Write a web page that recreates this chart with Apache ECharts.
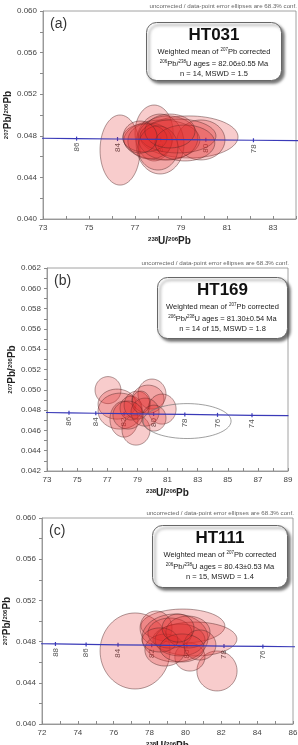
<!DOCTYPE html>
<html>
<head>
<meta charset="utf-8">
<script src="https://cdn.jsdelivr.net/npm/echarts@6/dist/echarts.min.js"></script>
<style>
  html, body { margin: 0; padding: 0; background: #fff; }
  #chart { width: 298px; height: 745px; }
</style>
</head>
<body>
<div id="chart"></div>
<script>
// concordia (Tera-Wasserburg) points
const concAges = [72, 74, 76, 78, 80, 82, 84, 86, 88, 90];
const concX = [89.03, 86.61, 84.32, 82.15, 80.08, 78.12, 76.24, 74.46, 72.75, 71.13];
const concY = [0.04745, 0.04749, 0.04753, 0.04757, 0.04761, 0.04765, 0.04769, 0.04773, 0.04777, 0.04781];

// error ellipses: center x, center y, half width (x), half height (y)
const ellA_cx = [76.35, 77.83, 79.35, 79.87, 78.09, 78.17, 77.65, 78.43, 78.87, 77.43, 78.00, 79.17, 78.52, 77.22];
const ellA_cy = [0.04663, 0.04827, 0.04789, 0.04760, 0.04721, 0.04760, 0.04750, 0.04779, 0.04798, 0.04779, 0.04683, 0.04731, 0.04846, 0.04788];
const ellA_rx = [0.87, 0.83, 2.13, 1.04, 1.04, 1.65, 0.96, 1.30, 1.65, 0.96, 0.87, 1.30, 1.09, 0.74];
const ellA_ry = [0.00337, 0.00269, 0.00202, 0.00192, 0.00288, 0.00192, 0.00173, 0.00212, 0.00163, 0.00135, 0.00212, 0.00173, 0.00163, 0.00154];

const ellB_cx = [77.05, 77.65, 77.85, 78.11, 78.91, 78.58, 78.98, 79.97, 79.71, 80.64, 79.51, 79.24, 80.10, 78.38];
const ellB_cy = [0.04997, 0.04859, 0.04790, 0.04711, 0.04603, 0.04820, 0.04849, 0.04958, 0.04908, 0.04810, 0.04780, 0.04879, 0.04721, 0.04751];
const ellB_rx = [0.86, 1.26, 1.46, 0.93, 0.93, 0.73, 0.86, 0.93, 1.06, 0.93, 0.93, 0.60, 0.80, 1.00];
const ellB_ry = [0.00133, 0.00148, 0.00177, 0.00177, 0.00148, 0.00118, 0.00138, 0.00148, 0.00138, 0.00148, 0.00138, 0.00108, 0.00128, 0.00138];
// rejected analysis (outline only)
const rejB = [[82.30, 0.04692, 2.92, 0.00172]];

const ellC_cx = [77.19, 81.76, 79.86, 80.53, 78.36, 80.25, 79.42, 78.86, 79.70, 79.14, 80.14, 80.81, 78.58, 79.81, 79.59];
const ellC_cy = [0.04709, 0.04515, 0.04951, 0.04825, 0.04932, 0.04650, 0.04835, 0.04718, 0.04816, 0.04883, 0.04893, 0.04767, 0.04816, 0.04738, 0.04932];
const ellC_rx = [1.95, 1.12, 2.34, 2.34, 0.89, 0.84, 1.84, 1.12, 1.39, 1.23, 1.23, 0.89, 1.00, 1.23, 0.89];
const ellC_ry = [0.00369, 0.00194, 0.00165, 0.00165, 0.00165, 0.00136, 0.00233, 0.00155, 0.00155, 0.00146, 0.00155, 0.00146, 0.00117, 0.00136, 0.00136];

const panels = [
  {tag: '(a)', name: 'HT031', age: '82.06\u00b10.55', nline: 'n = 14, MSWD = 1.5',
   xMin: 73, xMax: 84, yMin: 0.040, yMax: 0.060, yStep: 0.002,
   grid: {left: 43, top: 11, width: 253, height: 208},
   box: {x: 146, y: 22, w: 135, h: 58},
   ell: [ellA_cx, ellA_cy, ellA_rx, ellA_ry], rej: []},
  {tag: '(b)', name: 'HT169', age: '81.30\u00b10.54', nline: 'n = 14 of 15, MSWD = 1.8',
   xMin: 73, xMax: 89, yMin: 0.042, yMax: 0.062, yStep: 0.001,
   grid: {left: 47, top: 268, width: 241, height: 203},
   box: {x: 157, y: 277, w: 130, h: 61},
   ell: [ellB_cx, ellB_cy, ellB_rx, ellB_ry], rej: rejB},
  {tag: '(c)', name: 'HT111', age: '80.43\u00b10.53', nline: 'n = 15, MSWD = 1.4',
   xMin: 72, xMax: 86, yMin: 0.040, yMax: 0.060, yStep: 0.002,
   grid: {left: 42, top: 518, width: 251, height: 206},
   box: {x: 152, y: 525, w: 135, h: 62},
   ell: [ellC_cx, ellC_cy, ellC_rx, ellC_ry], rej: []}
];

const FONT = 'Liberation Sans, Arial, sans-serif';

const ellipseItem = (fill, stroke) => (params, api) => {
  const cx = api.value(0), cy = api.value(1), rx = api.value(2), ry = api.value(3);
  const pts = [];
  for (let k = 0; k < 72; k++) {
    const a = k / 72 * Math.PI * 2;
    pts.push(api.coord([cx + rx * Math.cos(a), cy + ry * Math.sin(a)]));
  }
  return {type: 'polygon', shape: {points: pts}, style: {fill: fill, stroke: stroke, lineWidth: 0.7}};
};

const nameRich = {
  s: {fontSize: 6, fontWeight: 'bold', fontFamily: FONT, color: '#222', verticalAlign: 'top', padding: [0, 0, 4, 0]},
  b: {fontSize: 10, fontWeight: 'bold', fontFamily: FONT, color: '#222'}
};

const grid = [], xAxis = [], yAxis = [], series = [], graphic = [];

panels.forEach((p, i) => {
  grid.push(Object.assign({show: true, borderColor: '#8a8a8a', borderWidth: 0.8, backgroundColor: '#fff', outerBoundsMode: 'none', containLabel: false}, p.grid));
  xAxis.push({
    gridIndex: i, type: 'value', min: p.xMin, max: p.xMax, interval: 1,
    name: '{s|238}{b|U/}{s|206}{b|Pb}', nameLocation: 'middle', nameGap: 17, nameMoveOverlap: false,
    nameTextStyle: {rich: nameRich},
    axisLine: {lineStyle: {color: '#8a8a8a', width: 0.8}},
    axisTick: {inside: true, length: 3, lineStyle: {color: '#8a8a8a'}},
    axisLabel: {fontSize: 8, color: '#444', fontFamily: FONT, margin: 5, showMinLabel: true, showMaxLabel: true,
                formatter: v => (Math.round(v - p.xMin) % 2 === 0 ? String(v) : '')},
    splitLine: {show: false}
  });
  yAxis.push({
    gridIndex: i, type: 'value', min: p.yMin, max: p.yMax, interval: p.yStep,
    name: '{s|207}{b|Pb/}{s|206}{b|Pb}', nameLocation: 'middle', nameGap: 30, nameMoveOverlap: false,
    nameTextStyle: {rich: nameRich},
    axisLine: {lineStyle: {color: '#8a8a8a', width: 0.8}},
    axisTick: {length: 3, lineStyle: {color: '#8a8a8a'}},
    axisLabel: {fontSize: 8, color: '#444', fontFamily: FONT, margin: 6,
                formatter: v => (Math.round((v - p.yMin) / p.yStep) % 2 === 0 ? v.toFixed(3) : '')},
    splitLine: {show: false}
  });

  // concordia curve
  series.push({
    type: 'line', xAxisIndex: i, yAxisIndex: i, silent: true, showSymbol: false,
    lineStyle: {color: '#3a3ab8', width: 1.2},
    data: concX.map((x, k) => [x, concY[k]])
  });
  // age ticks + labels
  series.push({
    type: 'custom', xAxisIndex: i, yAxisIndex: i, silent: true,
    data: concX.map((x, k) => [x, concY[k], concAges[k]]),
    renderItem: (params, api) => {
      const x = api.value(0);
      if (x < p.xMin + 0.3 || x > p.xMax - 0.3) return null;
      const c = api.coord([x, api.value(1)]);
      return {type: 'group', children: [
        {type: 'line', shape: {x1: c[0], y1: c[1] - 2, x2: c[0], y2: c[1] + 2}, style: {stroke: '#3a3ab8', lineWidth: 1.2}},
        {type: 'text', x: c[0], y: c[1] + 4, rotation: Math.PI / 2,
         style: {text: String(api.value(2)), align: 'right', verticalAlign: 'middle', fontSize: 8, fontFamily: FONT, fill: '#555'}}
      ]};
    }
  });
  // error ellipses
  const [cx, cy, rx, ry] = p.ell;
  series.push({
    type: 'custom', xAxisIndex: i, yAxisIndex: i, silent: true,
    renderItem: ellipseItem('rgba(226,40,40,0.24)', 'rgba(80,40,40,0.65)'),
    data: cx.map((x, k) => [x, cy[k], rx[k], ry[k]])
  });
  if (p.rej.length) {
    series.push({
      type: 'custom', xAxisIndex: i, yAxisIndex: i, silent: true,
      renderItem: ellipseItem('rgba(0,0,0,0)', '#777'),
      data: p.rej
    });
  }

  const g = p.grid;
  graphic.push({type: 'text', right: 298 - (g.left + g.width) - 1, top: g.top - 8,
    style: {text: 'uncorrected / data-point error ellipses are 68.3% conf.', fontSize: 6.2, fontFamily: FONT, fill: '#666'}});
  graphic.push({type: 'text', left: g.left + 7, top: g.top + 6,
    style: {text: p.tag, fontSize: 14, fontFamily: FONT, fill: '#333'}});
  const b = p.box;
  graphic.push({type: 'group', left: b.x, top: b.y, children: [
    {type: 'rect', shape: {x: 0, y: 0, width: b.w, height: b.h, r: 10},
     style: {fill: '#fff', stroke: '#666', lineWidth: 1, shadowBlur: 3, shadowOffsetX: 2.5, shadowOffsetY: 2.5, shadowColor: 'rgba(0,0,0,0.55)'}},
    {type: 'text', x: b.w / 2, y: 13,
     style: {text: p.name, align: 'center', verticalAlign: 'middle', fontSize: 17, fontWeight: 'bold', fontFamily: FONT, fill: '#111'}},
    {type: 'text', x: b.w / 2, y: 29,
     style: {text: 'Weighted mean of {s|207}Pb corrected', align: 'center', verticalAlign: 'middle', fontSize: 7.5, fontFamily: FONT, fill: '#222',
             rich: {s: {fontSize: 4.5, fontFamily: FONT, fill: '#222', verticalAlign: 'top', padding: [0, 0, 3, 0]}}}},
    {type: 'text', x: b.w / 2, y: 41,
     style: {text: '{s|206}Pb/{s|238}U ages = ' + p.age + ' Ma', align: 'center', verticalAlign: 'middle', fontSize: 7.5, fontFamily: FONT, fill: '#222',
             rich: {s: {fontSize: 4.5, fontFamily: FONT, fill: '#222', verticalAlign: 'top', padding: [0, 0, 3, 0]}}}},
    {type: 'text', x: b.w / 2, y: 51,
     style: {text: p.nline, align: 'center', verticalAlign: 'middle', fontSize: 7.5, fontFamily: FONT, fill: '#222'}}
  ]});
});

const chart = echarts.init(document.getElementById('chart'), null, {renderer: 'canvas'});
chart.setOption({animation: false, grid, xAxis, yAxis, series, graphic});
</script>
</body>
</html>
